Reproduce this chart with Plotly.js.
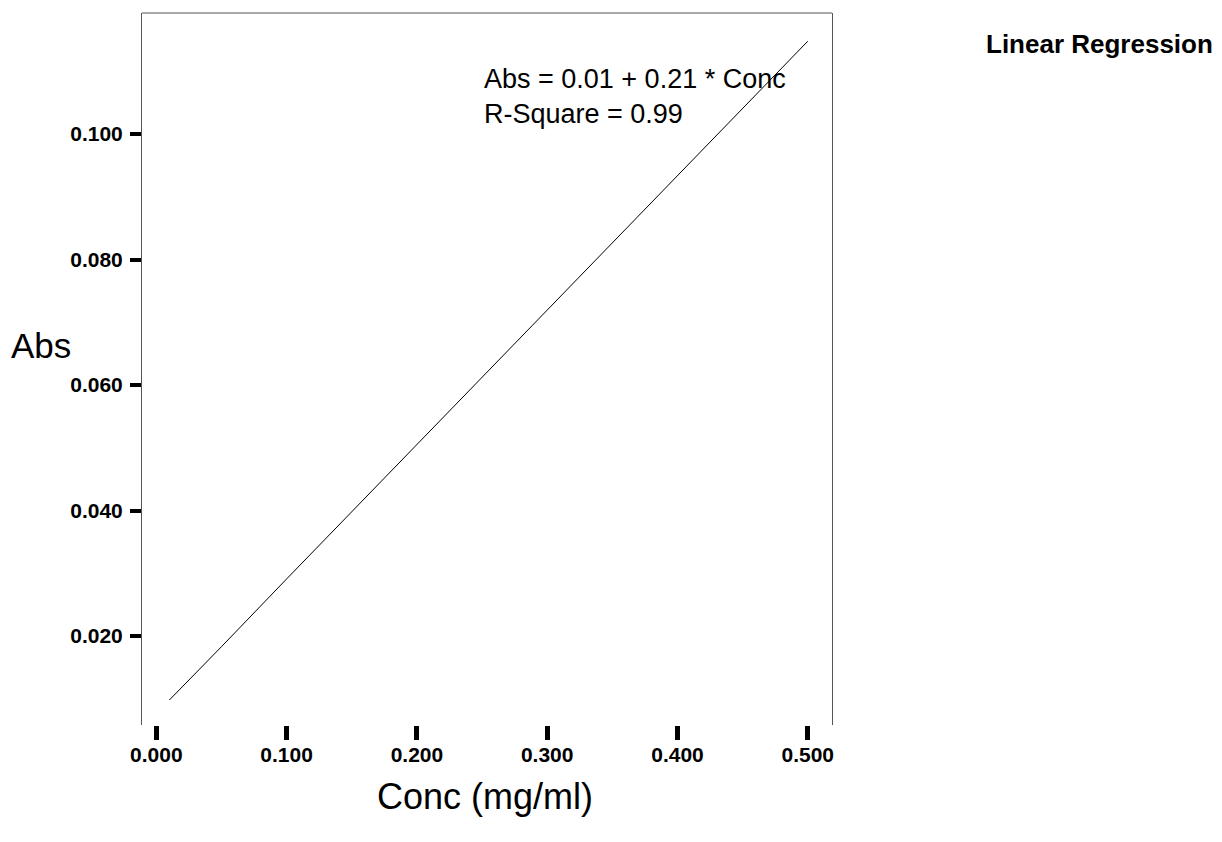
<!DOCTYPE html>
<html>
<head>
<meta charset="utf-8">
<script src="https://cdn.plot.ly/plotly-3.0.1.min.js"></script>
<style>html,body{margin:0;padding:0;background:#fff;}#chart{width:1222px;height:842px;}</style>
</head>
<body>
<div id="chart"></div>
<script>
// Regression line
var conc = [0.010, 0.050, 0.100, 0.150, 0.200, 0.250, 0.300, 0.350, 0.400, 0.450, 0.500];
var absVals = [0.0098, 0.0183, 0.0291, 0.0398, 0.0505, 0.0612, 0.0720, 0.0827, 0.0934, 0.1041, 0.1148];

var xTickVals = [0.0, 0.1, 0.2, 0.3, 0.4, 0.5];
var xTickText = ["0.000", "0.100", "0.200", "0.300", "0.400", "0.500"];
var yTickVals = [0.02, 0.04, 0.06, 0.08, 0.10];
var yTickText = ["0.020", "0.040", "0.060", "0.080", "0.100"];

var FONT = "Liberation Sans, Arial, Helvetica, sans-serif";

var trace = {
  x: conc, y: absVals, type: "scatter", mode: "lines",
  line: {color: "#000", width: 1}, hoverinfo: "skip", showlegend: false
};

var layout = {
  width: 1222, height: 842, autosize: false,
  margin: {l: 142, r: 390, t: 13, b: 117, pad: 0},
  paper_bgcolor: "#fff", plot_bgcolor: "#fff",
  font: {family: FONT, color: "#000"},
  xaxis: {
    range: [-0.011, 0.5186], showgrid: false, zeroline: false, showline: false,
    tickmode: "array", tickvals: xTickVals, ticktext: xTickText,
    ticks: "outside", ticklen: 14, tickwidth: 5, tickcolor: "#000",
    ticklabelstandoff: -3,
    tickfont: {family: FONT, size: 21, weight: "bold", color: "#000"}
  },
  yaxis: {
    range: [0.00582, 0.1193], showgrid: false, zeroline: false,
    showline: true, mirror: true, linecolor: "#555", linewidth: 1,
    tickmode: "array", tickvals: yTickVals, ticktext: yTickText,
    ticks: "outside", ticklen: 11, tickwidth: 4, tickcolor: "#000",
    ticklabelstandoff: 3,
    tickfont: {family: FONT, size: 21, weight: "bold", color: "#000"}
  },
  shapes: [
    {type: "line", xref: "paper", yref: "paper", x0: 0, x1: 1, y0: 1, y1: 1,
     line: {color: "#555", width: 1}}
  ],
  annotations: [
    {text: "Abs", xref: "paper", yref: "paper", x: -0.1457, y: 0.5337,
     xanchor: "center", yanchor: "middle", showarrow: false,
     font: {family: FONT, size: 35, color: "#000"}},
    {text: "Conc (mg/ml)", xref: "paper", yref: "paper", x: 0.4964, y: -0.1011,
     xanchor: "center", yanchor: "middle", showarrow: false,
     font: {family: FONT, size: 36, color: "#000"}},
    {text: "Linear Regression", xref: "paper", yref: "paper", x: 1.3884, y: 0.9565,
     xanchor: "center", yanchor: "middle", showarrow: false,
     font: {family: FONT, size: 26, weight: "bold", color: "#000"}},
    {text: "Abs = 0.01 + 0.21 * Conc<br>R-Square = 0.99", xref: "x", yref: "paper",
     x: 0.25, y: 0.8834, xanchor: "left", yanchor: "middle", align: "left",
     showarrow: false, font: {family: FONT, size: 27, color: "#000"}}
  ]
};

Plotly.newPlot("chart", [trace], layout, {staticPlot: true, displayModeBar: false});
</script>
</body>
</html>
